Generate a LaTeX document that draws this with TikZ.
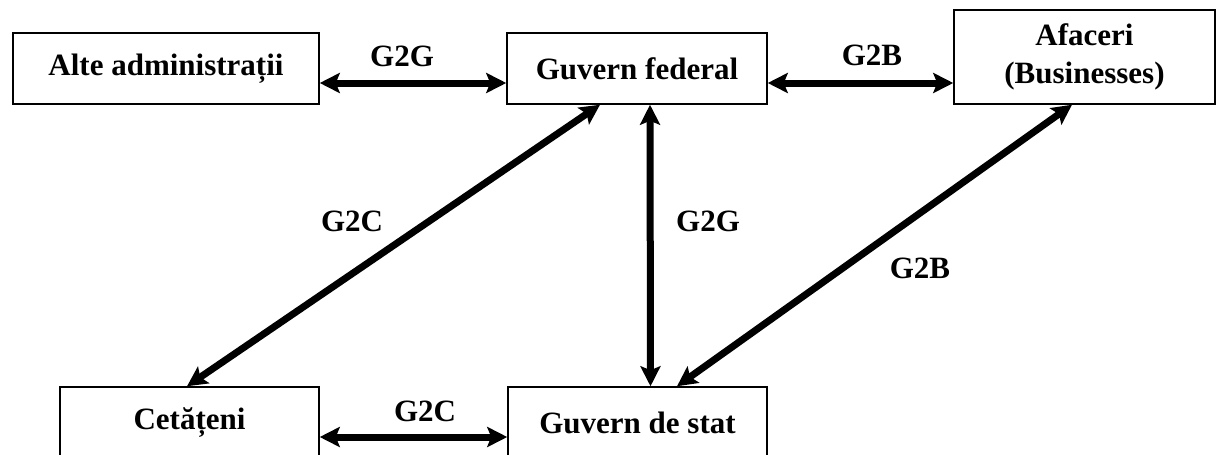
\documentclass[tikz,border=0pt]{standalone}
\usepackage{fontspec}
\setmainfont{Liberation Serif}
\usetikzlibrary{arrows.meta}

\begin{document}
\begin{tikzpicture}[x=1pt,y=-1pt]
	\tikzstyle{every node}+=[inner sep=0pt, font=\fontsize{31}{38}\selectfont\bfseries]
	\tikzstyle{box}=[draw=black, line width=1.5pt, minimum height=71pt, align=center]
	\tikzstyle{link}=[black, line width=7pt, {Stealth[length=20pt,width=20pt,inset=4pt]}-{Stealth[length=20pt,width=20pt,inset=4pt]}]
	\useasboundingbox (0,0) rectangle (1218,455);
	\node [box, minimum width=306pt] (alte) at (166,68.5) {Alte administrații};
	\node [box, minimum width=260pt] (fed) at (637,68.5) {Guvern federal};
	\node [box, minimum width=261pt, minimum height=94pt] (afaceri) at (1084.5,57) {Afaceri\\(Businesses)};
	\node [box, minimum width=259pt] (cet) at (189.5,422.5) {Cetățeni};
	\node [box, minimum width=259pt] (stat) at (637.5,422.5) {Guvern de stat};
	\coordinate (fedR) at ([yshift=-14.5pt]fed.east);
	\draw [link] ([yshift=-14.5pt]alte.east) -- ([yshift=-14.5pt]fed.west);
	\draw [link] (fedR) -- (fedR -| afaceri.west);
	\draw [link] ([yshift=-14.5pt]cet.east) -- ([yshift=-14.5pt]stat.west);
	\draw [link] ([xshift=13pt]fed.south) -- ([xshift=13pt]stat.north);
	\draw [link] ([xshift=-37pt]fed.south) -- ([xshift=-2.5pt]cet.north);
	\draw [link] ([xshift=-12.5pt]afaceri.south) -- ([xshift=39.5pt]stat.north);
	\node (gg1) at (402,56) {G2G};
	\node (gb1) at (872,55) {G2B};
	\node (gc1) at (352,221) {G2C};
	\node (gg2) at (708,221) {G2G};
	\node (gb2) at (920,268) {G2B};
	\node (gc2) at (425,411) {G2C};
\end{tikzpicture}
\end{document}
